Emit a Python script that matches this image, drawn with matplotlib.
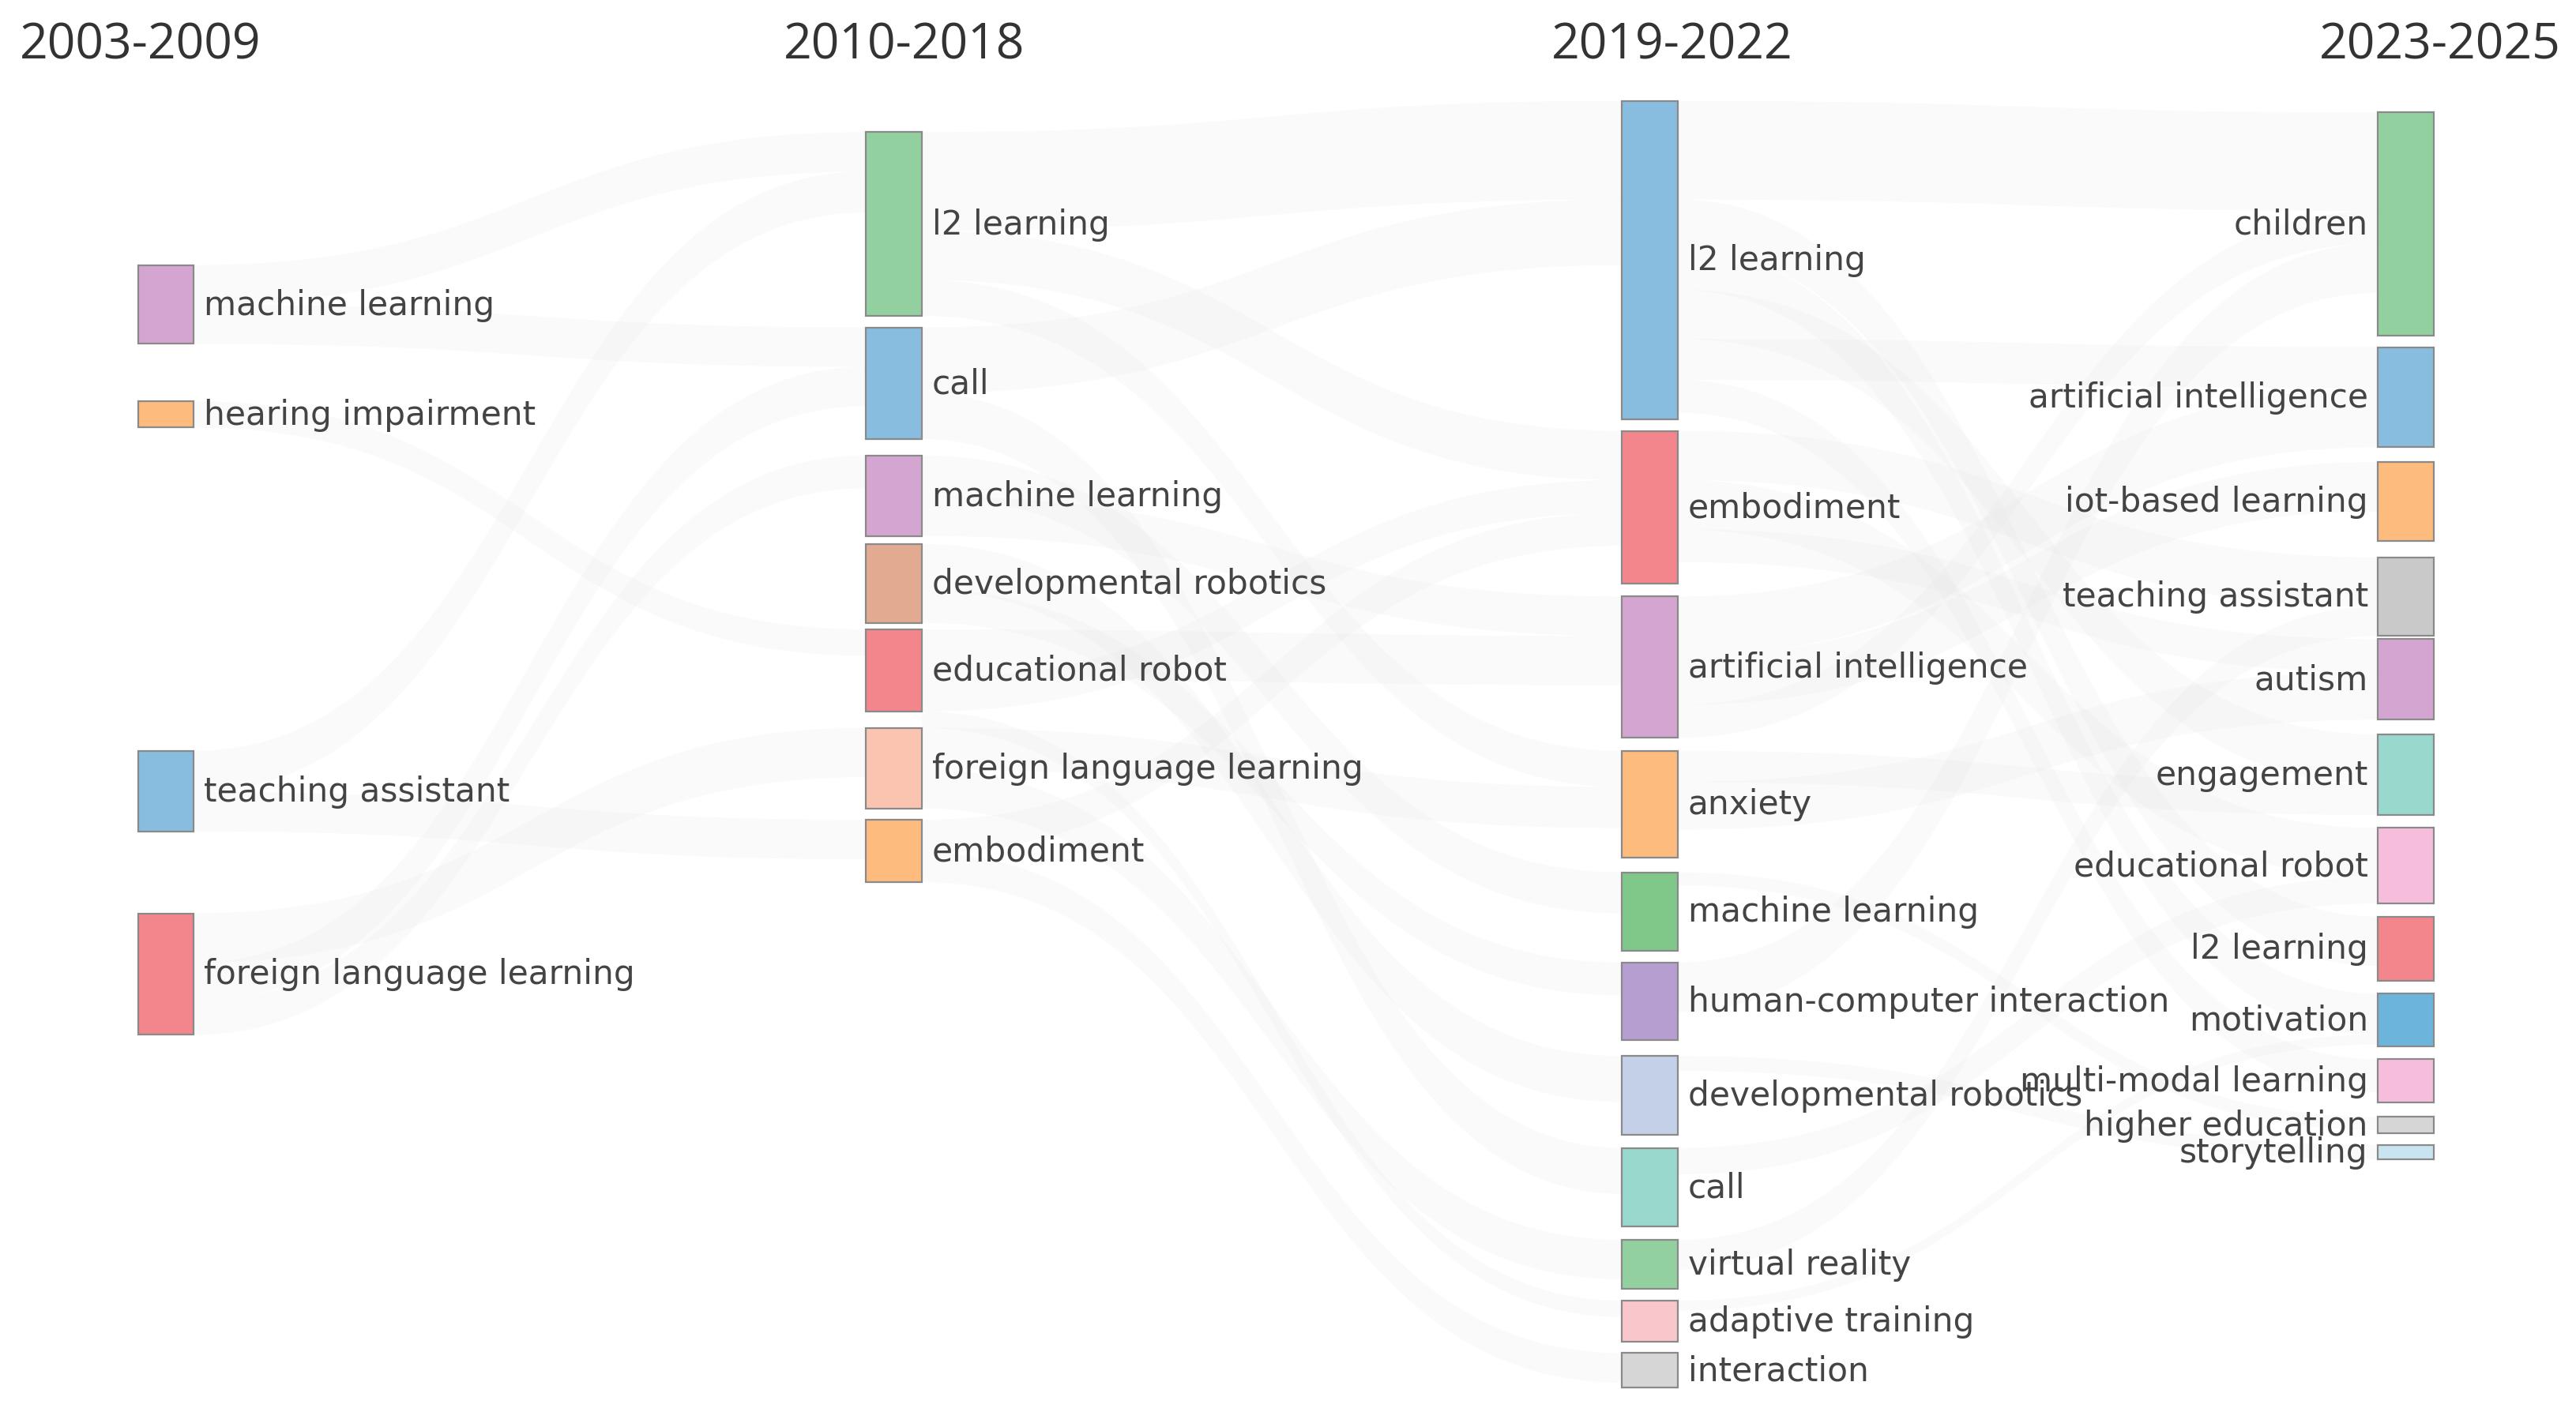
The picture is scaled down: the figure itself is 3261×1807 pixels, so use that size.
import matplotlib
matplotlib.use("Agg")
import matplotlib.pyplot as plt
from matplotlib.path import Path
from matplotlib.patches import PathPatch, Rectangle

periods = ["2003-2009", "2010-2018", "2019-2022", "2023-2025"]

col1_labels = ["machine learning", "hearing impairment", "teaching assistant", "foreign language learning"]
col1_values = [48, 16, 49, 74]
col2_labels = ["l2 learning", "call", "machine learning", "developmental robotics", "educational robot",
               "foreign language learning", "embodiment"]
col2_values = [112, 68, 49, 48, 50, 49, 38]
col3_labels = ["l2 learning", "embodiment", "artificial intelligence", "anxiety", "machine learning",
               "human-computer interaction", "developmental robotics", "call", "virtual reality",
               "adaptive training", "interaction"]
col3_values = [194, 93, 86, 65, 48, 47, 48, 48, 30, 25, 21]
col4_labels = ["children", "artificial intelligence", "iot-based learning", "teaching assistant", "autism",
               "engagement", "educational robot", "l2 learning", "motivation", "multi-modal learning",
               "higher education", "storytelling"]
col4_values = [136, 61, 48, 48, 49, 49, 46, 39, 32, 26, 10, 9]

# links: (source column, source index, target index in next column, value)
link_col = [0]*8 + [1]*16 + [2]*20
link_src = [0, 0, 1, 2, 2, 3, 3, 3,
            0, 0, 0, 1, 1, 2, 2, 3, 3, 4, 4, 5, 5, 6, 6, 4,
            0, 0, 0, 0, 0, 0, 1, 1, 1, 2, 2, 2, 3, 3, 4, 5, 6, 7, 8, 9]
link_tgt = [0, 1, 4, 0, 6, 5, 1, 2,
            0, 1, 3, 0, 7, 4, 2, 6, 5, 2, 1, 3, 8, 1, 10, 9,
            0, 7, 8, 5, 1, 9, 3, 6, 4, 1, 2, 0, 5, 4, 10, 0, 11, 6, 3, 8]
link_val = [24, 24, 16, 25, 24, 30, 24, 20,
            60, 30, 22, 40, 28, 25, 24, 28, 20, 30, 20, 25, 24, 20, 18, 10,
            60, 30, 25, 30, 25, 20, 30, 30, 20, 36, 30, 20, 19, 29, 8, 30, 9, 16, 18, 6]

cols_labels = [col1_labels, col2_labels, col3_labels, col4_labels]
cols_values = [col1_values, col2_values, col3_values, col4_values]
# layout (display pixel units)
col_x = [84, 527, 987, 1447]
node_w = 34
col_tops = [[162, 245, 458, 557],
            [81, 200, 278, 332, 384, 444, 500],
            [62, 263, 364, 458, 532, 587, 644, 700, 756, 793, 825],
            [69, 212, 282, 340, 390, 448, 505, 559, 606, 646, 681, 698]]
col_colors = [["#d4a5d0", "#fdbb7d", "#88bde0", "#f2868c"],
              ["#93d0a0", "#88bde0", "#d4a5d0", "#e2aa90", "#f2868c", "#fbc4b1", "#fdbb7d"],
              ["#88bde0", "#f2868c", "#d4a5d0", "#fdbb7d", "#80c78a", "#b79ed0", "#c4cfe8",
               "#99d8cc", "#93d0a0", "#f9c6cc", "#d6d6d6"],
              ["#93d0a0", "#88bde0", "#fdbb7d", "#c9c9c9", "#d4a5d0", "#99d8cc", "#f6bedc",
               "#f2868c", "#6cb4dc", "#f6bedc", "#d6d6d6", "#c8e4f0"]]

fig = plt.figure(figsize=(16.31, 9.04), dpi=200)
ax = fig.add_axes([0, 0, 1, 1])
ax.set_xlim(0, 1568)
ax.set_ylim(870, 0)
ax.axis("off")

out_off = [[0]*len(v) for v in cols_values]
in_off = [[0]*len(v) for v in cols_values]
for c, s, t, v in zip(link_col, link_src, link_tgt, link_val):
    x0 = col_x[c] + node_w
    x1 = col_x[c+1]
    y0 = col_tops[c][s] + out_off[c][s]
    y1 = col_tops[c+1][t] + in_off[c+1][t]
    out_off[c][s] += v
    in_off[c+1][t] += v
    xm = (x0 + x1) / 2
    verts = [(x0, y0), (xm, y0), (xm, y1), (x1, y1),
             (x1, y1 + v), (xm, y1 + v), (xm, y0 + v), (x0, y0 + v), (x0, y0)]
    codes = [Path.MOVETO, Path.CURVE4, Path.CURVE4, Path.CURVE4,
             Path.LINETO, Path.CURVE4, Path.CURVE4, Path.CURVE4, Path.CLOSEPOLY]
    ax.add_patch(PathPatch(Path(verts, codes), facecolor="#e6e6e6", edgecolor="none", alpha=0.2))

for c in range(4):
    for lab, val, top, col in zip(cols_labels[c], cols_values[c], col_tops[c], col_colors[c]):
        ax.add_patch(Rectangle((col_x[c], top), node_w, val, facecolor=col,
                               edgecolor="#8a8a8a", linewidth=0.8))
        if c < 3:
            ax.text(col_x[c] + node_w + 6, top + val/2, lab, ha="left", va="center",
                    fontsize=15.2, color="#444444", family="DejaVu Sans")
        else:
            ax.text(col_x[c] - 6, top + val/2, lab, ha="right", va="center",
                    fontsize=15.2, color="#444444", family="DejaVu Sans")

hx = [12, 477, 944, 1411]
for p, x in zip(periods, hx):
    ax.text(x, 28, p, ha="left", va="center", fontsize=22.5, color="#333333", family="Open Sans")

fig.savefig("out.png", dpi=200)
